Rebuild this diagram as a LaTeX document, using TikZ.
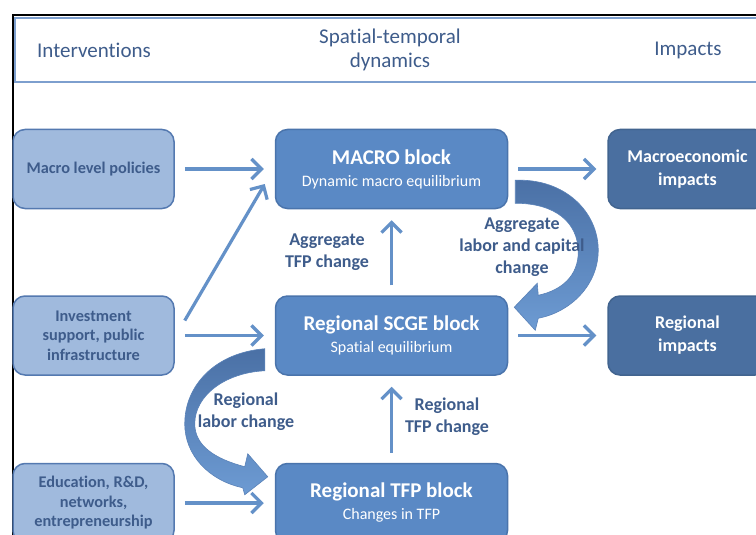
\documentclass[tikz,border=0pt]{standalone}
\usepackage{fontspec}
\setmainfont{Carlito}[Ligatures=NoCommon]
\usetikzlibrary{arrows.meta, positioning}
\definecolor{policyfill}{HTML}{A0BADD}
\definecolor{policyline}{HTML}{5479B0}
\definecolor{modelfill}{HTML}{5A89C5}
\definecolor{modelline}{HTML}{4A74AC}
\definecolor{impactfill}{HTML}{4A6FA0}
\definecolor{impactline}{HTML}{42648F}
\definecolor{flowblue}{HTML}{6491C8}
\definecolor{textblue}{HTML}{3E5C8B}
\definecolor{headline}{HTML}{7D9FCE}
\definecolor{bigdark}{HTML}{4A70A5}
\definecolor{biglight}{HTML}{6D9BD3}
\definecolor{bigline}{HTML}{5A82B8}
\newcommand{\blocktitle}[1]{{\fontsize{21}{24}\selectfont\bfseries #1}}
\newcommand{\blocksub}[1]{{\fontsize{16}{19}\selectfont #1}}
\tikzstyle{policybox} = [draw=policyline, fill=policyfill, line width=1.5pt, rounded corners=12pt, minimum width=161pt, minimum height=79pt, text=textblue, align=center, font=\fontsize{16.3}{19.5}\selectfont\bfseries]
\tikzstyle{modelbox} = [draw=modelline, fill=modelfill, line width=1.5pt, rounded corners=12pt, minimum width=232pt, minimum height=79pt, text=white, align=center, font=\fontsize{16}{22}\selectfont]
\tikzstyle{impactbox} = [draw=impactline, fill=impactfill, line width=1.5pt, rounded corners=12pt, minimum width=159pt, minimum height=79pt, text=white, align=center, font=\fontsize{18}{23}\selectfont\bfseries]
\tikzstyle{thinarrow} = [draw=flowblue, line width=3.2pt, -{Straight Barb[length=10pt,width=20pt]}, shorten <=10pt, shorten >=11pt]
\tikzstyle{flowlabel} = [text=textblue, align=center, font=\fontsize{18}{22}\selectfont\bfseries]
\tikzstyle{headtext} = [text=textblue, align=center, font=\fontsize{21}{24}\selectfont]
\tikzstyle{bigarrow} = [top color=bigdark, bottom color=biglight, draw=bigline, line width=0.6pt]

\begin{document}
\begin{tikzpicture}[x=1pt, y=-1pt]
	\useasboundingbox (0,0) rectangle (756,535);
	\clip (0,0) rectangle (756,535);
	\fill[white] (0,0) rectangle (756,535);
	% frame and header band
	\draw[line width=2pt] (12.5,545) -- (12.5,15) -- (770,15);
	\draw[draw=headline, line width=1.5pt, fill=white] (15,18) rectangle (770,82);
	\node[headtext] (hdrint) at (94,50) {Interventions};
	\node[headtext] (hdrdyn) at (390,50) {Spatial-temporal\\dynamics};
	\node[headtext] (hdrimp) at (688,50) {Impacts};

	% model blocks
	\node[modelbox] (macro) at (391.5,169) {\blocktitle{MACRO block}\\\blocksub{Dynamic macro equilibrium}};
	\node[modelbox, below=86pt of macro] (scge) {\blocktitle{Regional SCGE block}\\\blocksub{Spatial equilibrium}};
	\node[modelbox, below=87pt of scge] (tfp) {\blocktitle{Regional TFP block}\\\blocksub{Changes in TFP}};

	% interventions and impacts
	\node[policybox, left=100pt of macro] (policies) {Macro level policies};
	\node[policybox, left=100pt of scge] (invest) {Investment\\support, public\\infrastructure};
	\node[policybox, left=100pt of tfp] (educ) {Education, R\&D,\\networks,\\entrepreneurship};
	\node[impactbox, right=99pt of macro] (macroimp) {Macroeconomic\\impacts};
	\node[impactbox, right=99pt of scge] (regimp) {Regional\\impacts};

	% flows
	\draw[thinarrow] (policies) -- (macro);
	\draw[thinarrow] (invest) -- (scge);
	\draw[thinarrow] (educ) -- (tfp);
	\draw[thinarrow, shorten <=0pt, shorten >=0pt] ([xshift=10pt,yshift=15pt]invest.east) -- ([xshift=-10pt,yshift=-15pt]macro.west);
	\draw[thinarrow] (macro) -- (macroimp);
	\draw[thinarrow] (scge) -- (regimp);
	\draw[thinarrow] (scge) -- (macro);
	\draw[thinarrow] (tfp) -- (scge);

	% curved feedback arrows
	\begin{scope}[shift={(macro.south east)}]
		\path[bigarrow] (7,-29) .. controls (57,-31) and (90,3) .. (90,41)
			.. controls (90,76) and (62,103) .. (30,109)
			-- (27,121) -- (6,98) -- (29,74) -- (30,86)
			.. controls (54,81) and (70,66) .. (70,43)
			.. controls (70,13) and (47,-6) .. (7,-6) -- cycle;
	\end{scope}
	\begin{scope}[shift={(scge.south west)}]
		\path[bigarrow] (-10,-27) .. controls (-60,-23) and (-90,10) .. (-90,48)
			.. controls (-90,80) and (-65,105) .. (-32,112)
			-- (-30,119) -- (-7,101) -- (-27,78) -- (-30,91)
			.. controls (-60,83) and (-80,70) .. (-80,48)
			.. controls (-80,20) and (-50,-3) .. (-10,-5) -- cycle;
	\end{scope}

	% flow labels
	\node[flowlabel] (aggtfp) at (327,252) {Aggregate\\TFP change};
	\node[flowlabel] (aggfac) at (522,247) {Aggregate\\labor and capital\\change};
	\node[flowlabel] (reglab) at (246,412) {Regional\\labor change};
	\node[flowlabel] (regtfp) at (447,417) {Regional\\TFP change};
\end{tikzpicture}
\end{document}
